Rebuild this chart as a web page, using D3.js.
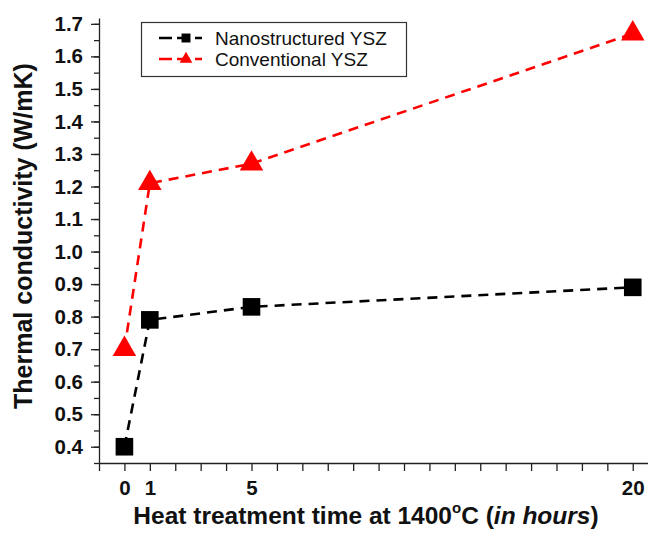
<!doctype html>
<html lang="en">
<head>
  <meta charset="utf-8">
  <title>Thermal conductivity</title>
  <style>
    body { margin: 0; background: #fff; }
    svg { display: block; font-family: "Liberation Sans", Arial, sans-serif; }
  </style>
</head>
<body>
  <div id="chart"></div>
  <script src="https://cdn.jsdelivr.net/npm/d3@7"></script>
  <script>
(function(){

  // values
  var hours = [0, 1, 5, 20];
  var nanoYSZ = [0.40, 0.79, 0.83, 0.89];
  var convYSZ = [0.70, 1.21, 1.27, 1.67];
  var xTickLabels = [0, 1, 5, 20];
  var yTickLabels = [0.4, 0.5, 0.6, 0.7, 0.8, 0.9, 1.0, 1.1, 1.2, 1.3, 1.4, 1.5, 1.6, 1.7];
  var seriesNames = ["Nanostructured YSZ", "Conventional YSZ"];

  var width = 648, height = 538;

  var svg = d3.select("#chart").append("svg")
      .attr("width", width)
      .attr("height", height);

  var x = d3.scaleLinear().domain([-1, 20.6]).range([99, 648]);
  var y = d3.scaleLinear().domain([0.35, 1.718]).range([463, 18]);

  // x axis: minor ticks every hour, labels only at the data times
  svg.append("g")
      .attr("transform", "translate(0,463)")
      .call(d3.axisBottom(x).tickValues(d3.range(-1, 21)).tickSize(8).tickSizeOuter(0)
        .tickPadding(9)
        .tickFormat(function(d) { return xTickLabels.indexOf(d) >= 0 ? d : ""; }));

  // y axis: minor ticks at the half steps
  svg.append("g")
      .attr("transform", "translate(99,0)")
      .call(d3.axisLeft(y).tickValues(d3.range(0.35, 1.72, 0.05)).tickSize(0).tickFormat(""))
      .call(function(g) { g.select(".domain").remove(); })
      .selectAll(".tick line").attr("x2", -5);

  svg.append("g")
      .attr("transform", "translate(99,0)")
      .call(d3.axisLeft(y).tickValues(yTickLabels).tickSize(8).tickSizeOuter(0)
        .tickPadding(8)
        .tickFormat(d3.format(".1f")));

  svg.selectAll(".domain, .tick line").attr("stroke", "#222").attr("stroke-width", 1.3);
  svg.selectAll(".tick text")
      .attr("font-size", 20.5)
      .attr("font-weight", "bold")
      .attr("fill", "#111");

  // axis titles
  svg.append("text")
      .attr("transform", "translate(32,236) rotate(-90)")
      .attr("text-anchor", "middle")
      .attr("font-weight", "bold")
      .attr("font-size", 25)
      .attr("fill", "#111")
      .text("Thermal conductivity (W/mK)");

  var xt = svg.append("text")
      .attr("x", 366)
      .attr("y", 524)
      .attr("text-anchor", "middle")
      .attr("font-weight", "bold")
      .attr("font-size", 24.5)
      .attr("fill", "#111");
  xt.append("tspan").text("Heat treatment time at 1400");
  xt.append("tspan").attr("dy", -11).attr("font-size", 15).text("o");
  xt.append("tspan").attr("dy", 11).text("C (");
  xt.append("tspan").attr("font-style", "italic").text("in hours");
  xt.append("tspan").text(")");

  var line = d3.line()
      .x(function(d) { return x(d[0]); })
      .y(function(d) { return y(d[1]); });

  var series = [
    { name: seriesNames[0], values: nanoYSZ, color: "#000", shape: d3.symbolSquare, size: 310 },
    { name: seriesNames[1], values: convYSZ, color: "#ff0000", shape: d3.symbolTriangle, size: 240 }
  ];

  series.forEach(function(s) {
    var pts = hours.map(function(h, i) { return [h, s.values[i]]; });
    svg.append("path")
        .attr("d", line(pts))
        .attr("fill", "none")
        .attr("stroke", s.color)
        .attr("stroke-width", 2.6)
        .attr("stroke-dasharray", "10,7");
    svg.selectAll(null).data(pts).enter().append("path")
        .attr("transform", function(d) { return "translate(" + x(d[0]) + "," + y(d[1]) + ")"; })
        .attr("d", d3.symbol().type(s.shape).size(s.size))
        .attr("fill", s.color);
  });

  // legend
  var legend = svg.append("g");
  legend.append("rect")
      .attr("x", 141.5).attr("y", 22.5)
      .attr("width", 265).attr("height", 54)
      .attr("fill", "#fff")
      .attr("stroke", "#333")
      .attr("stroke-width", 1.2);

  series.forEach(function(s, i) {
    var ly = 38 + i * 21;
    legend.append("line")
        .attr("x1", 159).attr("x2", 202)
        .attr("y1", ly).attr("y2", ly)
        .attr("stroke", s.color)
        .attr("stroke-width", 2.5)
        .attr("stroke-dasharray", "13,5");
    legend.append("path")
        .attr("transform", "translate(186," + ly + ")")
        .attr("d", d3.symbol().type(s.shape).size(i === 0 ? 80 : 70))
        .attr("fill", s.color);
    legend.append("text")
        .attr("x", 215).attr("y", ly + 7)
        .attr("font-size", 19)
        .attr("fill", "#111")
        .text(s.name);
  });

})();
  </script>
</body>
</html>
